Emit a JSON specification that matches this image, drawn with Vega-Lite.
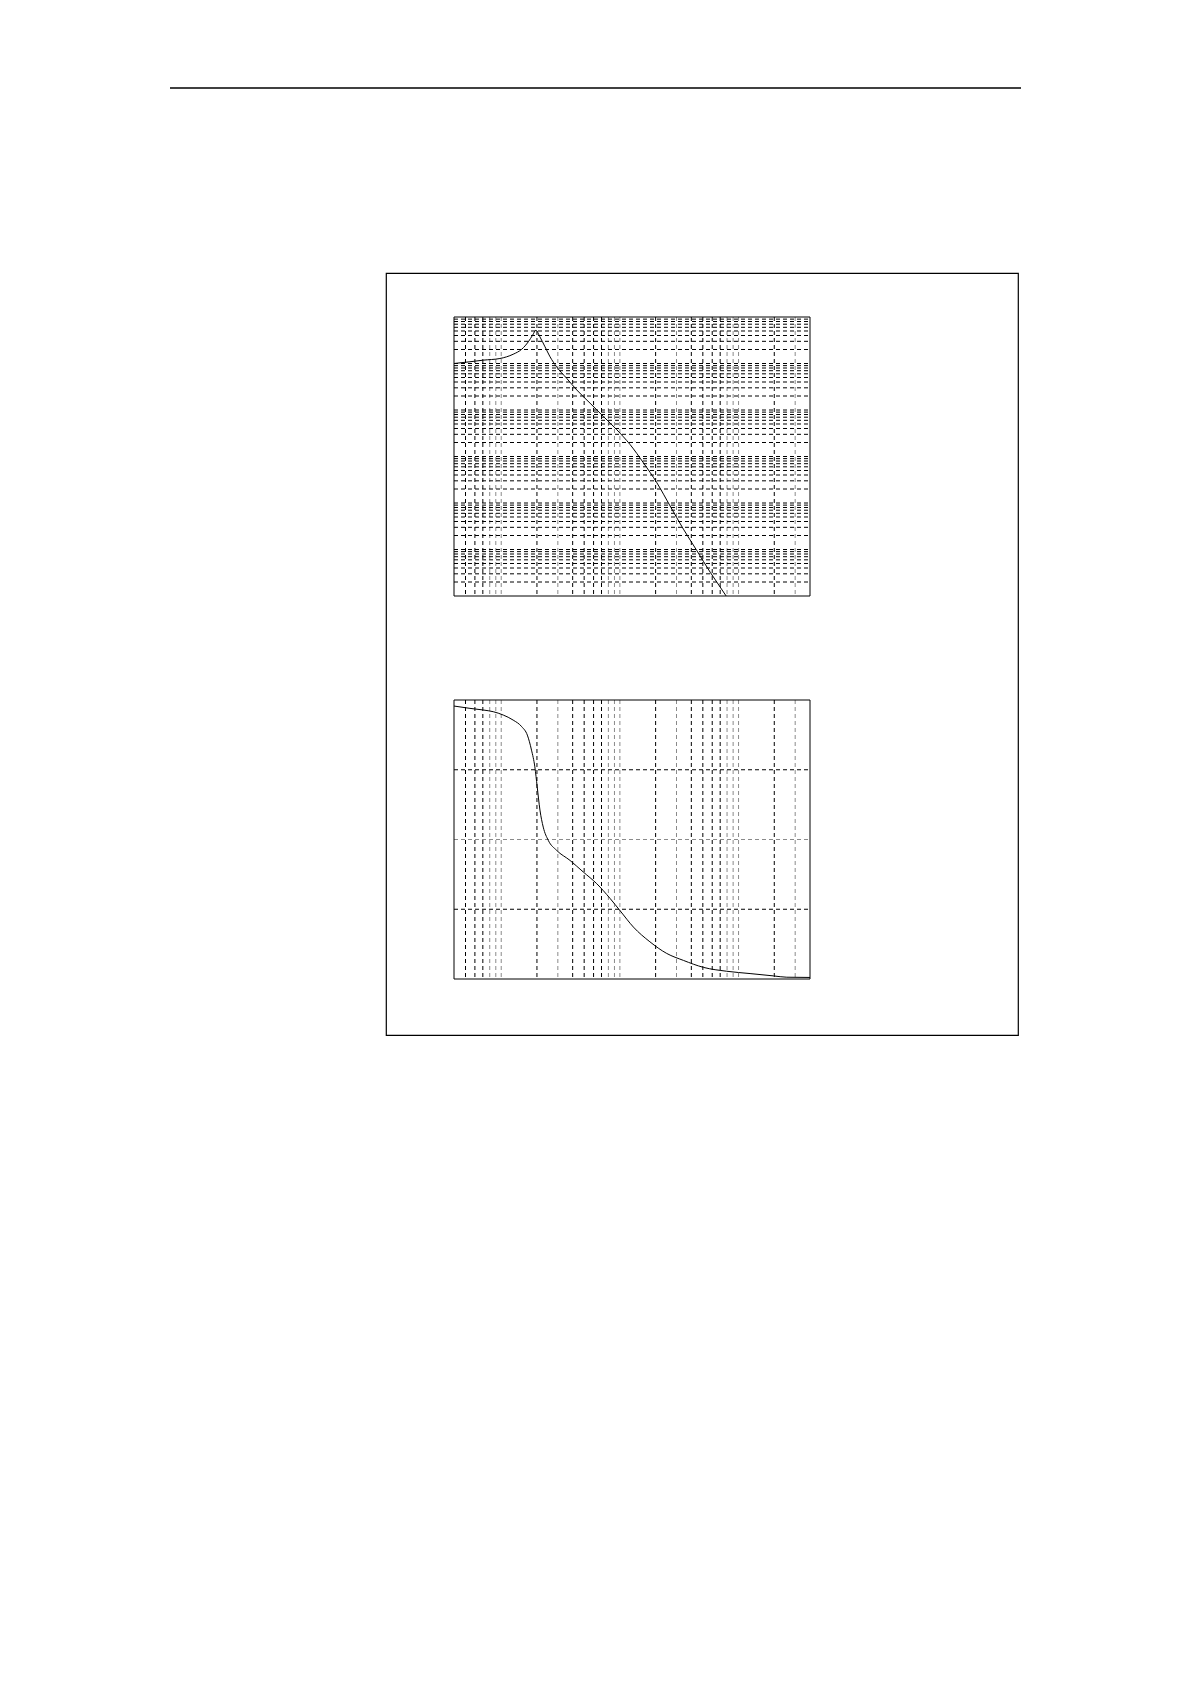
{
  "$schema": "https://vega.github.io/schema/vega-lite/v6.json",
  "background": "white",
  "padding": {"left": 169, "top": 87, "right": 0, "bottom": 0},
  "bounds": "flush",
  "spacing": 184,
  "config": {"view": {"stroke": null}},
  "datasets": {
    "mag": [
      {"f": 0.4, "m": 1.0},
      {"f": 0.545, "m": 1.09},
      {"f": 0.705, "m": 1.18},
      {"f": 0.975, "m": 1.28},
      {"f": 1.26, "m": 1.58},
      {"f": 1.49, "m": 2.03},
      {"f": 1.69, "m": 2.92},
      {"f": 1.84, "m": 4.07},
      {"f": 1.96, "m": 5.19},
      {"f": 2.12, "m": 3.73},
      {"f": 2.34, "m": 2.28},
      {"f": 2.58, "m": 1.39},
      {"f": 2.93, "m": 0.85},
      {"f": 3.56, "m": 0.48},
      {"f": 4.33, "m": 0.27},
      {"f": 5.61, "m": 0.14},
      {"f": 7.26, "m": 0.0726},
      {"f": 9.41, "m": 0.0377},
      {"f": 12.2, "m": 0.018},
      {"f": 15.8, "m": 0.00729},
      {"f": 20.5, "m": 0.00272},
      {"f": 26.5, "m": 0.000863},
      {"f": 34.3, "m": 0.000274},
      {"f": 44.6, "m": 0.000094},
      {"f": 57.7, "m": 0.0000324},
      {"f": 65.5, "m": 0.00002},
      {"f": 78.6, "m": 0.00001}
    ],
    "phase": [
      {"f": 0.4, "p": -7.8},
      {"f": 0.545, "p": -10.8},
      {"f": 0.705, "p": -12.9},
      {"f": 0.856, "p": -15.1},
      {"f": 1.04, "p": -19.4},
      {"f": 1.26, "p": -25.9},
      {"f": 1.49, "p": -34.5},
      {"f": 1.66, "p": -45.3},
      {"f": 1.8, "p": -64.7},
      {"f": 1.92, "p": -86.2},
      {"f": 2.01, "p": -112},
      {"f": 2.12, "p": -142},
      {"f": 2.26, "p": -164},
      {"f": 2.49, "p": -181},
      {"f": 2.93, "p": -194},
      {"f": 3.8, "p": -207},
      {"f": 4.92, "p": -222},
      {"f": 6.38, "p": -237},
      {"f": 8.26, "p": -256},
      {"f": 10.05, "p": -272},
      {"f": 13.0, "p": -293},
      {"f": 17.9, "p": -312},
      {"f": 24.8, "p": -327},
      {"f": 34.3, "p": -336},
      {"f": 50.6, "p": -345},
      {"f": 79.5, "p": -350},
      {"f": 125, "p": -353},
      {"f": 197, "p": -356},
      {"f": 255, "p": -357.7},
      {"f": 400, "p": -358}
    ],
    "xgrid": [
      {"f": 0.5}, {"f": 0.6}, {"f": 0.7}, {"f": 0.8}, {"f": 0.9},
      {"f": 1}, {"f": 2}, {"f": 3}, {"f": 4}, {"f": 5}, {"f": 6}, {"f": 7}, {"f": 8}, {"f": 9},
      {"f": 10}, {"f": 20}, {"f": 30}, {"f": 40}, {"f": 50}, {"f": 60}, {"f": 70}, {"f": 80}, {"f": 90},
      {"f": 100}, {"f": 200}, {"f": 300}
    ],
    "maggrid": [
      {"m": 2e-5}, {"m": 3e-5}, {"m": 4e-5}, {"m": 5e-5}, {"m": 6e-5}, {"m": 7e-5}, {"m": 8e-5}, {"m": 9e-5},
      {"m": 1e-4}, {"m": 2e-4}, {"m": 3e-4}, {"m": 4e-4}, {"m": 5e-4}, {"m": 6e-4}, {"m": 7e-4}, {"m": 8e-4}, {"m": 9e-4},
      {"m": 0.001}, {"m": 0.002}, {"m": 0.003}, {"m": 0.004}, {"m": 0.005}, {"m": 0.006}, {"m": 0.007}, {"m": 0.008}, {"m": 0.009},
      {"m": 0.01}, {"m": 0.02}, {"m": 0.03}, {"m": 0.04}, {"m": 0.05}, {"m": 0.06}, {"m": 0.07}, {"m": 0.08}, {"m": 0.09},
      {"m": 0.1}, {"m": 0.2}, {"m": 0.3}, {"m": 0.4}, {"m": 0.5}, {"m": 0.6}, {"m": 0.7}, {"m": 0.8}, {"m": 0.9},
      {"m": 1}, {"m": 2}, {"m": 3}, {"m": 4}, {"m": 5}, {"m": 6}, {"m": 7}, {"m": 8}, {"m": 9}
    ],
    "phasegrid": [{"p": -90}, {"p": -180}, {"p": -270}]
  },
  "vconcat": [
    {
      "width": 851,
      "height": 1,
      "data": {"values": [{}]},
      "mark": {"type": "rule", "color": "black", "strokeWidth": 1.3},
      "encoding": {
        "x": {"datum": 0, "type": "quantitative", "scale": {"domain": [0, 1], "nice": false}, "axis": null},
        "x2": {"datum": 1},
        "y": {"datum": 1, "type": "quantitative", "scale": {"domain": [0, 1], "nice": false}, "axis": null}
      }
    },
    {
      "bounds": "flush",
      "spacing": 0,
      "hconcat": [
        {
          "width": 216,
          "height": 1,
          "data": {"values": [{}]},
          "mark": {"type": "point", "opacity": 0},
          "encoding": {}
        },
        {
          "width": 632,
          "height": 762,
          "view": {"stroke": "black", "strokeWidth": 1.2},
          "resolve": {"scale": {"y": "independent"}},
          "layer": [
            {
              "data": {"name": "xgrid"},
              "mark": {"type": "rule", "strokeWidth": 1, "strokeDash": [4, 3]},
              "encoding": {
                "x": {"field": "f", "type": "quantitative", "scale": {"type": "log", "domain": [0.4, 400], "range": [68, 424], "nice": false}, "axis": null},
                "y": {"datum": 10, "type": "quantitative", "scale": {"type": "log", "domain": [0.00001, 10], "range": [323, 44], "nice": false}, "axis": null},
                "y2": {"datum": 0.00001},
                "color": {"condition": {"test": "indexof([2,4,5,6,7], round(datum.f / pow(10, floor(log(datum.f) / LN10 + 1e-9)))) >= 0", "value": "#000000"}, "value": "#8a8a8a"}
              }
            },
            {
              "data": {"name": "maggrid"},
              "mark": {"type": "rule", "strokeWidth": 1, "strokeDash": [4, 3], "color": "#000000"},
              "encoding": {
                "x": {"datum": 0.4, "type": "quantitative", "scale": {"type": "log", "domain": [0.4, 400], "range": [68, 424], "nice": false}, "axis": null},
                "x2": {"datum": 400},
                "y": {"field": "m", "type": "quantitative", "scale": {"type": "log", "domain": [0.00001, 10], "range": [323, 44], "nice": false}, "axis": null}
              }
            },
            {
              "data": {"values": [{}]},
              "mark": {"type": "rect", "fill": null, "fillOpacity": 0, "stroke": "black", "strokeWidth": 1},
              "encoding": {
                "x": {"datum": 0.4, "type": "quantitative", "scale": {"type": "log", "domain": [0.4, 400], "range": [68, 424], "nice": false}, "axis": null},
                "x2": {"datum": 400},
                "y": {"datum": 10, "type": "quantitative", "scale": {"type": "log", "domain": [0.00001, 10], "range": [323, 44], "nice": false}, "axis": null},
                "y2": {"datum": 0.00001}
              }
            },
            {
              "data": {"name": "mag"},
              "mark": {"type": "line", "color": "black", "strokeWidth": 1, "interpolate": "monotone"},
              "encoding": {
                "x": {"field": "f", "type": "quantitative", "scale": {"type": "log", "domain": [0.4, 400], "range": [68, 424], "nice": false}, "axis": null},
                "y": {"field": "m", "type": "quantitative", "scale": {"type": "log", "domain": [0.00001, 10], "range": [323, 44], "nice": false}, "axis": null}
              }
            },
            {
              "data": {"name": "xgrid"},
              "mark": {"type": "rule", "strokeWidth": 1, "strokeDash": [4, 3]},
              "encoding": {
                "x": {"field": "f", "type": "quantitative", "scale": {"type": "log", "domain": [0.4, 400], "range": [68, 424], "nice": false}, "axis": null},
                "y": {"datum": 0, "type": "quantitative", "scale": {"domain": [-360, 0], "range": [706, 427], "nice": false}, "axis": null},
                "y2": {"datum": -360},
                "color": {"condition": {"test": "indexof([2,4,5,6,7], round(datum.f / pow(10, floor(log(datum.f) / LN10 + 1e-9)))) >= 0", "value": "#000000"}, "value": "#8a8a8a"}
              }
            },
            {
              "data": {"name": "phasegrid"},
              "mark": {"type": "rule", "strokeWidth": 1, "strokeDash": [4, 3]},
              "encoding": {
                "x": {"datum": 0.4, "type": "quantitative", "scale": {"type": "log", "domain": [0.4, 400], "range": [68, 424], "nice": false}, "axis": null},
                "x2": {"datum": 400},
                "y": {"field": "p", "type": "quantitative", "scale": {"domain": [-360, 0], "range": [706, 427], "nice": false}, "axis": null},
                "color": {"condition": {"test": "datum.p == -180", "value": "#8a8a8a"}, "value": "#000000"}
              }
            },
            {
              "data": {"values": [{}]},
              "mark": {"type": "rect", "fill": null, "fillOpacity": 0, "stroke": "black", "strokeWidth": 1},
              "encoding": {
                "x": {"datum": 0.4, "type": "quantitative", "scale": {"type": "log", "domain": [0.4, 400], "range": [68, 424], "nice": false}, "axis": null},
                "x2": {"datum": 400},
                "y": {"datum": 0, "type": "quantitative", "scale": {"domain": [-360, 0], "range": [706, 427], "nice": false}, "axis": null},
                "y2": {"datum": -360}
              }
            },
            {
              "data": {"name": "phase"},
              "mark": {"type": "line", "color": "black", "strokeWidth": 1, "interpolate": "monotone"},
              "encoding": {
                "x": {"field": "f", "type": "quantitative", "scale": {"type": "log", "domain": [0.4, 400], "range": [68, 424], "nice": false}, "axis": null},
                "y": {"field": "p", "type": "quantitative", "scale": {"domain": [-360, 0], "range": [706, 427], "nice": false}, "axis": null}
              }
            }
          ]
        }
      ]
    }
  ]
}
